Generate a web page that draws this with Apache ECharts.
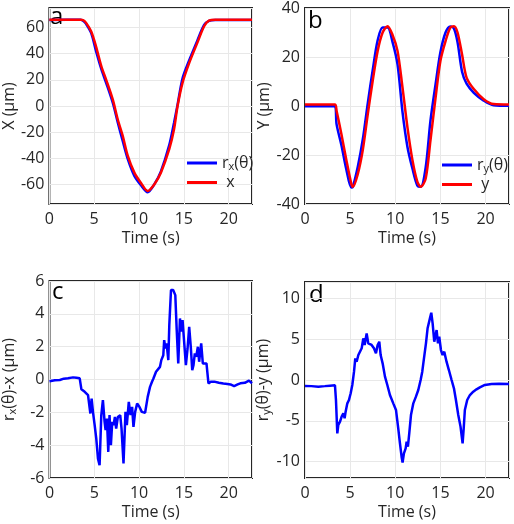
<!DOCTYPE html>
<html>
<head>
<meta charset="utf-8">
<script src="https://cdn.jsdelivr.net/npm/echarts@6/dist/echarts.min.js"></script>
<style>
  html, body { margin: 0; padding: 0; background: #fff; }
  #chart { width: 514px; height: 524px; }
</style>
</head>
<body>
<div id="chart"></div>
<script>
// panel a: X position
var timeA = [0, 3.5, 3.8, 4.1, 4.67, 5.2, 5.8, 6.33, 7.07, 7.63, 8.19, 8.74, 9.48, 10.2, 10.96, 11.7, 12.44, 13.37, 13.9, 14.3, 14.85, 15.6, 16.5, 17.26, 17.8, 18.5, 22.6];
var xRed = [66, 66, 65.6, 63.6, 57, 45.7, 30.4, 20.2, 5, -10.3, -23, -38, -51, -58.7, -65, -60, -51, -33, -18, 0, 17.7, 33, 48.3, 61, 65.4, 66, 66];
var rxBlue = [65.9, 66, 65, 62.8, 55.8, 42.2, 28.2, 17.8, 2.5, -12.5, -27, -40.5, -53.5, -60.5, -66, -60, -50, -30, -13, 1, 21, 35, 50, 62, 65.2, 65.9, 65.8];

// panel b: Y position
var timeB = [0, 3.3, 3.5, 4.03, 4.58, 5.13, 5.3, 5.86, 6.4, 6.96, 7.5, 8.05, 8.6, 9.15, 9.7, 10.25, 10.8, 11.35, 11.9, 12.45, 12.82, 13.37, 13.9, 14.47, 15.0, 15.57, 16.1, 16.5, 16.9, 17.4, 17.9, 18.7, 19.8, 20.9, 22.6];
var yRed = [0.6, 0.6, -2, -11.4, -22, -31.7, -33, -27.6, -18, -3.2, 10.3, 22.5, 30, 32.6, 29, 22.5, 7.6, -8.7, -22, -31, -33, -29.6, -14, 3.5, 18.4, 26.5, 32, 32.6, 30, 21, 11.6, 6.9, 2.8, 0.8, 0.6];
var ryBlue = [-0.1, -0.1, -7.5, -15.9, -25.9, -33.3, -33, -24.6, -13.7, 1.3, 14.6, 26.8, 32, 32, 26.1, 17, -2.4, -16.7, -25.5, -32.5, -33, -25.1, -6, 9, 21.9, 30, 32.5, 31.6, 26, 14, 9.1, 5.4, 2.2, 0.3, 0.1];

// panel c: rx(θ)-x
var timeC = [0, 0.6, 1.15, 1.6, 2.07, 2.63, 3.0, 3.37, 3.44, 3.56, 3.67, 3.93, 4.3, 4.4, 4.56, 4.7, 4.85, 5.04, 5.22, 5.41, 5.59, 5.78, 5.96, 6.15, 6.26, 6.41, 6.56, 6.7, 6.85, 7.0, 7.15, 7.3, 7.44, 7.63, 7.89, 8.04, 8.26, 8.48, 8.63, 8.85, 9.04, 9.22, 9.37, 9.56, 9.78, 10.04, 10.3, 10.67, 10.96, 11.22, 11.44, 11.6, 11.74, 11.89, 12.1, 12.33, 12.48, 12.7, 12.8, 12.93, 13.07, 13.26, 13.37, 13.56, 13.8, 14.04, 14.19, 14.37, 14.56, 14.7, 14.85, 15.04, 15.22, 15.41, 15.59, 15.78, 15.93, 16.07, 16.22, 16.37, 16.56, 16.7, 16.93, 17.11, 17.33, 17.52, 17.74, 18.0, 18.4, 18.9, 19.4, 19.85, 20.2, 20.6, 21.0, 21.3, 21.8, 22.26, 22.6];
var diffX = [-0.1, -0.05, -0.03, 0.05, 0.07, 0.13, 0.1, 0.07, 0.0, -0.6, -0.65, -0.75, -0.95, -1.05, -2.07, -1.16, -1.97, -2.78, -3.6, -4.82, -5.22, -2.17, -1.26, -2.58, -3.09, -2.38, -4.41, -2.17, -4.0, -2.58, -2.78, -2.28, -2.99, -2.28, -2.17, -2.99, -5.12, -1.97, -2.78, -1.36, -2.17, -1.67, -2.89, -1.97, -1.46, -1.67, -1.97, -2.03, -1.06, -0.45, -0.14, 0.06, -0.04, 0.47, 0.57, 0.77, 1.18, 1.48, 2.4, 1.89, 2.2, 1.18, 3.31, 5.45, 5.45, 5.14, 3.11, 0.98, 3.72, 2.91, 3.62, 2.2, 0.87, 1.89, 3.21, 1.89, 0.57, 0.87, 1.59, 1.38, 1.99, 1.08, 2.2, 0.98, 1.08, 0.98, -0.24, -0.14, -0.13, -0.2, -0.25, -0.27, -0.3, -0.4, -0.3, -0.23, -0.2, -0.07, -0.23];

// panel d: ry(θ)-y
var timeD = [0, 0.7, 1.48, 2.2, 2.77, 3.32, 3.43, 3.58, 3.69, 3.88, 4.06, 4.25, 4.39, 4.5, 4.69, 4.87, 5.06, 5.24, 5.43, 5.57, 5.72, 5.91, 6.09, 6.28, 6.46, 6.61, 6.83, 7.01, 7.2, 7.38, 7.64, 7.86, 8.05, 8.23, 8.38, 8.6, 8.86, 9.12, 9.41, 9.78, 10.08, 10.33, 10.52, 10.7, 10.81, 10.96, 11.15, 11.26, 11.4, 11.55, 11.74, 12.0, 12.29, 12.55, 12.81, 12.99, 13.18, 13.4, 13.58, 13.84, 13.99, 14.14, 14.32, 14.47, 14.58, 14.73, 14.87, 15.06, 15.24, 15.43, 15.57, 15.68, 15.94, 16.24, 16.5, 16.72, 16.98, 17.23, 17.46, 17.57, 17.71, 17.97, 18.27, 18.64, 19.0, 19.37, 19.93, 20.67, 21.5, 22.6];
var diffY = [-0.73, -0.75, -0.82, -0.75, -0.69, -0.65, -2.45, -6.53, -5.5, -5.1, -4.49, -4.08, -4.69, -3.88, -2.86, -2.45, -1.63, -0.61, 1.02, 2.65, 2.24, 3.06, 2.86, 3.88, 5.1, 4.29, 5.71, 4.49, 4.69, 4.29, 3.88, 3.27, 4.29, 4.69, 3.06, 2.04, 0.41, -0.61, -1.84, -2.86, -3.67, -5.92, -7.76, -9.39, -10.12, -8.98, -8.37, -7.55, -8.16, -6.53, -4.29, -2.86, -2.04, -1.22, 0, 1.02, 2.65, 4.49, 6.33, 7.55, 8.24, 6.94, 4.69, 5.51, 6.12, 4.49, 5.31, 3.67, 3.06, 3.47, 3.67, 2.24, 1.22, 0, -1.02, -2.45, -4.29, -5.71, -7.76, -6.12, -3.67, -2.45, -1.84, -1.43, -1.14, -0.9, -0.61, -0.49, -0.47, -0.49];

var tMax = 22.6;
var FONT = "'Open Sans', sans-serif";
var TXT = "#262626";
var FS = 16;

function pairs(t, v) {
  return t.map(function (x, i) { return [x, v[i]]; });
}

var rich = {
  n: { fontSize: FS, lineHeight: 19, color: TXT, fontFamily: FONT },
  s: { fontSize: 11, lineHeight: 11, verticalAlign: "bottom", color: TXT, fontFamily: FONT }
};

function xAxisFor(gi) {
  return {
    type: "value", gridIndex: gi, min: 0, max: tMax, interval: 5,
    name: "Time (s)", nameLocation: "middle", nameGap: 26,
    nameTextStyle: { fontSize: FS, color: TXT, fontFamily: FONT },
    axisLine: { show: false }, axisTick: { show: false },
    axisLabel: { fontSize: FS, color: TXT, fontFamily: FONT, margin: 7, showMaxLabel: false },
    splitLine: { lineStyle: { color: "#e8e8e8", width: 1 } }
  };
}

function yAxisFor(gi, name, min, max, extra) {
  var ax = {
    type: "value", gridIndex: gi, min: min, max: max,
    name: name, nameLocation: "middle", nameRotate: 90, nameGap: 30,
    nameTextStyle: { fontSize: FS, color: TXT, fontFamily: FONT, rich: rich },
    axisLine: { show: false }, axisTick: { show: false },
    axisLabel: { fontSize: FS, color: TXT, fontFamily: FONT, margin: 5 },
    splitLine: { lineStyle: { color: "#e8e8e8", width: 1 } }
  };
  for (var k in extra) {
    if (k === "axisLabel") Object.assign(ax.axisLabel, extra[k]);
    else ax[k] = extra[k];
  }
  return ax;
}

function gridBox(left, top, h) {
  return { left: left, top: top, width: 204, height: h, show: true, borderColor: "#262626", borderWidth: 2, backgroundColor: "transparent" };
}

function lineSeries(name, gi, data, color, smooth) {
  return {
    name: name, type: "line", xAxisIndex: gi, yAxisIndex: gi, data: data,
    symbol: "none", showSymbol: false, smooth: smooth, animation: false,
    lineStyle: { color: color, width: 2.5 }, itemStyle: { color: color }
  };
}

function legendFor(left, top, names) {
  return {
    orient: "vertical", left: left, top: top, data: names,
    icon: "rect", itemWidth: 30, itemHeight: 3, itemGap: 2,
    backgroundColor: "transparent",
    formatter: function (name) {
      if (name === "rx") return "{n|r}{s|x}{n|(θ)}";
      if (name === "ry") return "{n|r}{s|y}{n|(θ)}";
      return "{n| " + name + "}";
    },
    textStyle: { rich: rich }
  };
}

var chart = echarts.init(document.getElementById("chart"), null, { renderer: "canvas" });
chart.setOption({
  animation: false,
  grid: [gridBox(48, 8, 196), gridBox(305, 8, 196), gridBox(48, 281, 197), gridBox(305, 282, 196)],
  xAxis: [xAxisFor(0), xAxisFor(1), xAxisFor(2), xAxisFor(3)],
  yAxis: [
    yAxisFor(0, "X (μm)", -75, 75, { splitNumber: 7, nameGap: 32, axisLabel: { showMinLabel: false, showMaxLabel: false } }),
    yAxisFor(1, "Y (μm)", -40, 40, { interval: 20, nameGap: 32 }),
    yAxisFor(2, "{n|r}{s|x}{n|(θ)-x (μm)}", -6, 6, { interval: 2, nameGap: 31 }),
    yAxisFor(3, "{n|r}{s|y}{n|(θ)-y (μm)}", -12, 12, { splitNumber: 5, nameGap: 30, axisLabel: { showMinLabel: false, showMaxLabel: false } })
  ],
  legend: [legendFor(182, 150, ["rx", "x"]), legendFor(437, 152, ["ry", "y"])],
  series: [
    lineSeries("rx", 0, pairs(timeA, rxBlue), "#0000ff", 0.3),
    lineSeries("x", 0, pairs(timeA, xRed), "#ff0000", 0.3),
    lineSeries("ry", 1, pairs(timeB, ryBlue), "#0000ff", 0.3),
    lineSeries("y", 1, pairs(timeB, yRed), "#ff0000", 0.3),
    lineSeries("dx", 2, pairs(timeC, diffX), "#0000ff", false),
    lineSeries("dy", 3, pairs(timeD, diffY), "#0000ff", false)
  ],
  graphic: [
    { type: "text", left: 50, top: 5, style: { text: "a", fontSize: 24, fill: "#000", fontFamily: FONT } },
    { type: "text", left: 308, top: 9, style: { text: "b", fontSize: 24, fill: "#000", fontFamily: FONT } },
    { type: "text", left: 52, top: 280, style: { text: "c", fontSize: 24, fill: "#000", fontFamily: FONT } },
    { type: "text", left: 309, top: 283, style: { text: "d", fontSize: 24, fill: "#000", fontFamily: FONT } }
  ]
});
</script>
</body>
</html>
